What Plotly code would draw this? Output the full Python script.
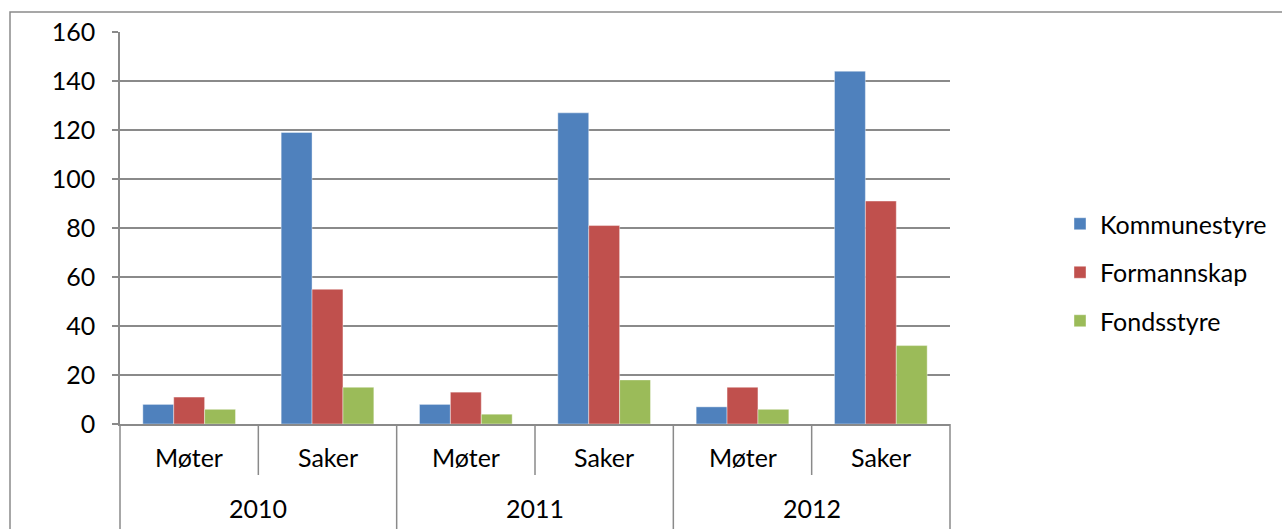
import plotly.graph_objects as go

years = ["2010", "2011", "2012"]
metrics = ["Møter", "Saker"]
series_names = ["Kommunestyre", "Formannskap", "Fondsstyre"]
kommunestyre = [8, 119, 8, 127, 7, 144]
formannskap = [11, 55, 13, 81, 15, 91]
fondsstyre = [6, 15, 4, 18, 6, 32]
colors = ["#4F81BD", "#C0504D", "#9BBB59"]
y_ticks = [0, 20, 40, 60, 80, 100, 120, 140, 160]

outer = [y for y in years for _ in metrics]
inner = [m for _ in years for m in metrics]
n = len(inner)

FONT = "Lato, 'Open Sans', sans-serif"
FS = 25
GRID = "#8a8a8a"

fig = go.Figure()
for name, vals, col in zip(series_names, [kommunestyre, formannskap, fondsstyre], colors):
    fig.add_trace(go.Bar(
        x=[outer, inner], y=vals, name=name, legendgroup=name,
        marker=dict(color=col, line=dict(color="rgba(255,255,255,0.5)", width=0.8)),
    ))

# plot area in pixels: left 120, right 950, top 32, bottom 424
W, H = 1282, 529
L, R, T, B = 120, 950, 32, 424
pw, ph = R - L, B - T

def px(xp):
    return (xp - L) / pw

def py(yp):
    return (B - yp) / ph

shapes = []
# outer chart border
shapes.append(dict(type="rect", xref="paper", yref="paper",
                   x0=px(10), x1=px(1300), y0=py(560), y1=py(12),
                   line=dict(color=GRID, width=1.5), layer="below"))
# dividers
for i in range(n + 1):
    xp = i / n
    if i % len(metrics) == 0:
        y0 = py(540)
    else:
        y0 = py(475)
    shapes.append(dict(type="line", xref="paper", yref="paper",
                       x0=xp, x1=xp, y0=y0, y1=0,
                       line=dict(color=GRID, width=1.5)))

annotations = []
for i, m in enumerate(inner):
    annotations.append(dict(text=m, xref="paper", yref="paper",
                            x=(i + 0.5) / n, y=py(457), showarrow=False,
                            xanchor="center", yanchor="middle",
                            font=dict(family=FONT, size=FS, color="#000")))
for j, yr in enumerate(years):
    k = len(metrics)
    annotations.append(dict(text=yr, xref="paper", yref="paper",
                            x=(j * k + k / 2) / n, y=py(508), showarrow=False,
                            xanchor="center", yanchor="middle",
                            font=dict(family=FONT, size=FS, color="#000")))

fig.update_layout(
    width=W, height=H,
    margin=dict(l=L, r=W - R, t=T, b=H - B, pad=0, autoexpand=False),
    paper_bgcolor="white", plot_bgcolor="white",
    barmode="group", bargap=0.33, bargroupgap=0,
    font=dict(family=FONT, size=FS, color="#000"),
    showlegend=True,
    legend=dict(x=px(1060), y=py(201), xanchor="left", yanchor="top",
                tracegroupgap=13, font=dict(size=FS),
                bgcolor="rgba(0,0,0,0)", itemwidth=30),
    xaxis=dict(showticklabels=False, showgrid=False, showline=True,
               linecolor=GRID, linewidth=1.5, ticks="", showdividers=False,
               zeroline=False),
    yaxis=dict(range=[0, 160], tickvals=y_ticks, showgrid=True,
               gridcolor=GRID, gridwidth=1.5, showline=True,
               linecolor=GRID, linewidth=1.5, ticks="outside", ticklen=6,
               tickcolor=GRID, tickwidth=1.5, zeroline=False,
               ticklabelstandoff=12, tickfont=dict(size=FS)),
    shapes=shapes, annotations=annotations,
)

fig.write_html("out.html", config={"displayModeBar": False},
               post_script="document.body.style.margin='0';document.body.style.padding='0';")
